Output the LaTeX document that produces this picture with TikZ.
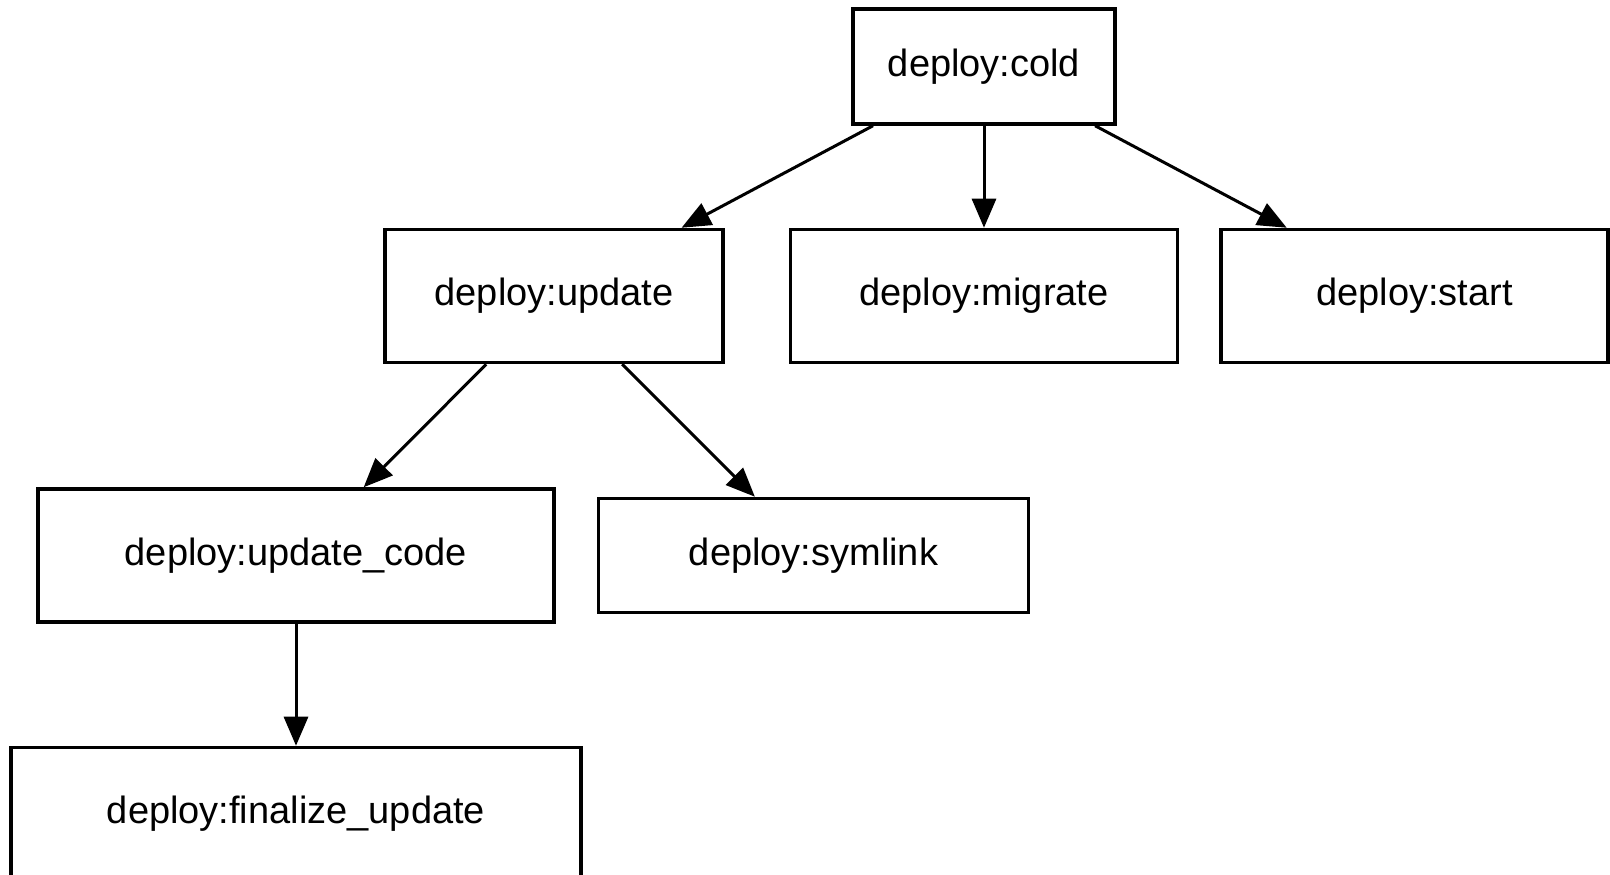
\documentclass[tikz,border=0pt]{standalone}
\usepackage{fontspec}
\setmainfont{Liberation Sans}
\usetikzlibrary{arrows.meta,positioning}

\begin{document}
\begin{tikzpicture}[x=1pt, y=1pt, node distance=102pt, auto,
                    >={Triangle[length=29pt, width=24pt]},
                    every node/.append style={align=center},
                    int/.style={draw, line width=3.5pt, inner sep=0pt, minimum height=133pt,
                                font=\fontsize{38}{46}\selectfont},
                    every path/.append style={line width=3pt}]

                   \useasboundingbox (0,0) rectangle (1610,875);

                   \node [int, minimum width=262pt, minimum height=115pt] (cold) at (984,808.5) {deploy:cold};
                   \node [int, below=of cold, minimum width=387pt] (migrate) {deploy:migrate};
                   \node [int, left=64pt of migrate, minimum width=338pt] (update) {deploy:update};
                   \node [int, right=40pt of migrate, minimum width=387pt] (start) {deploy:start};
                   \node [int, below=123pt of update, xshift=-258pt, minimum width=516pt] (update_code) {deploy:update\_code};
                   \node [int, right=41pt of update_code, minimum width=430pt, minimum height=114pt] (symlink) {deploy:symlink};
                   \node [int, below=122pt of update_code, minimum width=570pt] (finalize) {deploy:finalize\_update};

                   \path[->] (cold) edge (update);
                   \path[->] (cold) edge (migrate);
                   \path[->] (cold) edge (start);
                   \path[->] (update) edge (update_code);
                   \path[->] (update) edge (symlink);
                   \path[->] (update_code) edge (finalize);
                \end{tikzpicture}
\end{document}
